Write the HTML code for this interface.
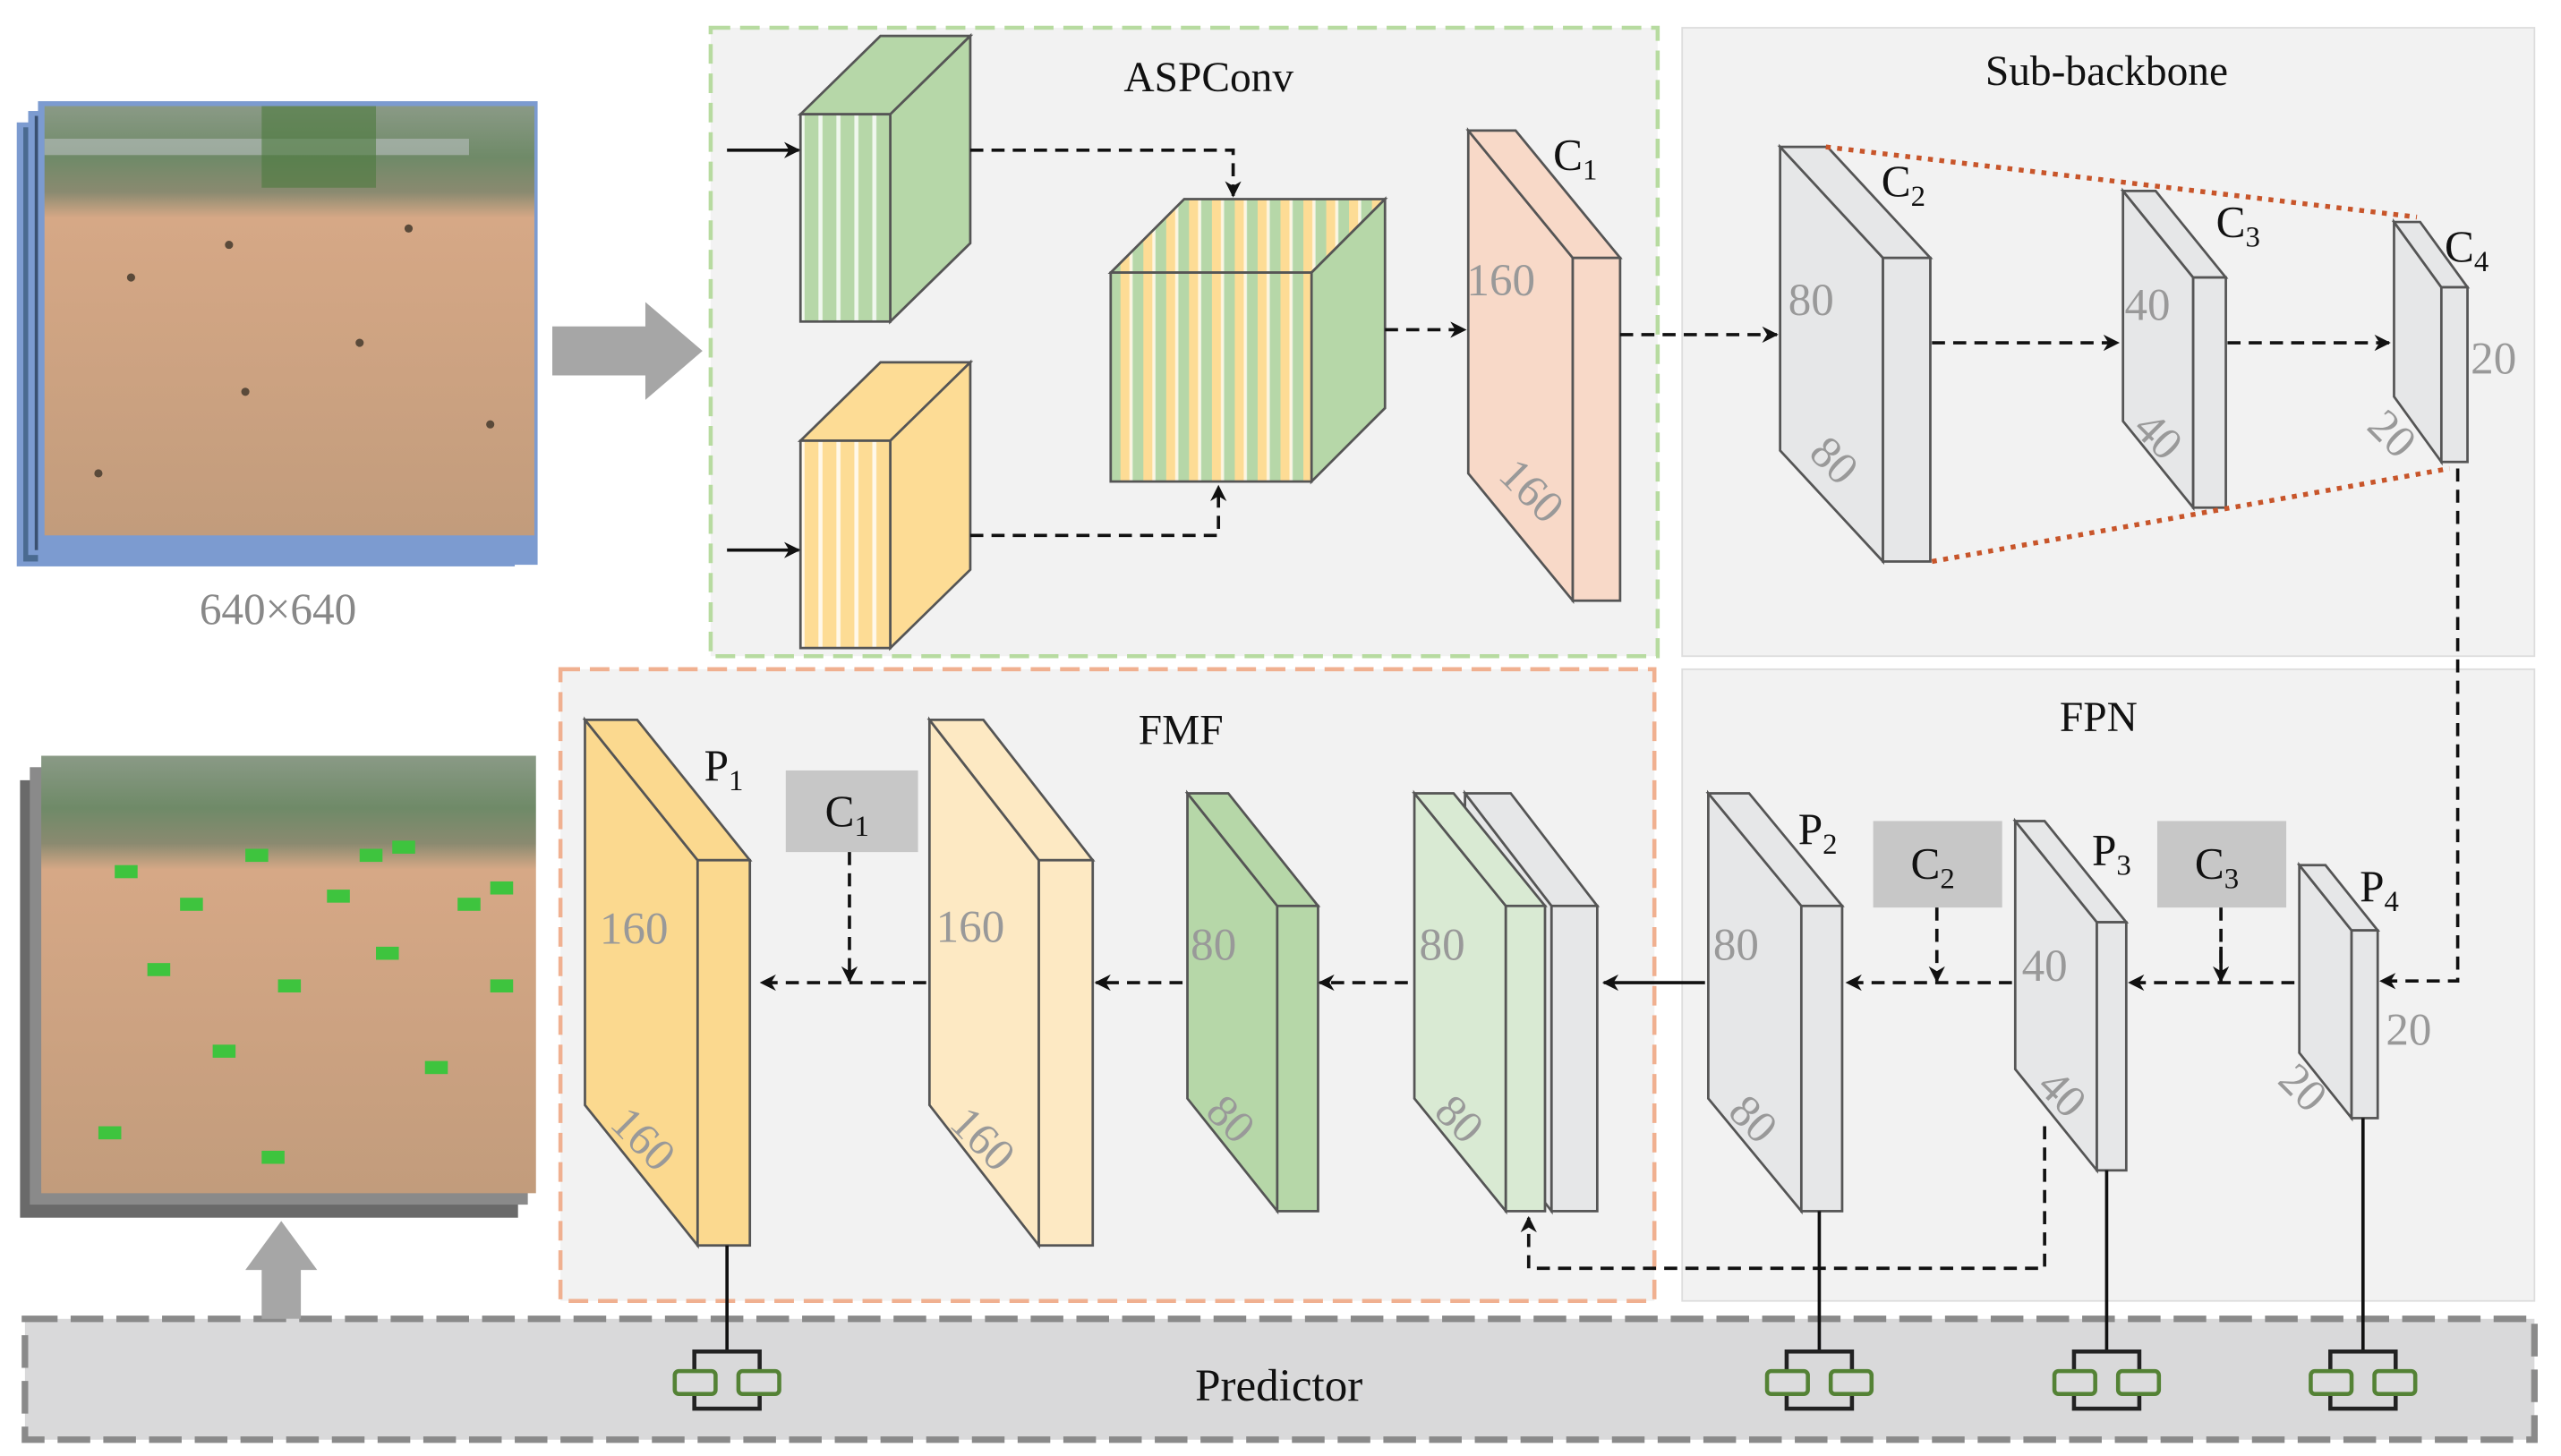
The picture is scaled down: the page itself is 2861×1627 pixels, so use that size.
<!DOCTYPE html>
<html><head><meta charset="utf-8">
<style>
html,body{margin:0;padding:0;background:#fff;}
svg{display:block;}
text{font-family:"Liberation Serif",serif;}
</style></head>
<body>
<svg width="2861" height="1627" viewBox="0 0 1568 892" xmlns="http://www.w3.org/2000/svg">
<defs>
<marker id="ah" markerWidth="10" markerHeight="10" refX="9" refY="5" orient="auto" markerUnits="userSpaceOnUse">
<path d="M0,0 L10,5 L0,10 L3,5 z" fill="#111"/></marker>
<linearGradient id="sand" x1="0" y1="0" x2="0" y2="1">
<stop offset="0" stop-color="#8a9a86"/><stop offset="0.12" stop-color="#6f8a68"/><stop offset="0.2" stop-color="#8a8a70"/><stop offset="0.26" stop-color="#d6a886"/><stop offset="1" stop-color="#c29c7c"/></linearGradient>
<pattern id="gs" width="11" height="10" patternUnits="userSpaceOnUse"><rect width="11" height="10" fill="#b6d7a8"/><rect x="6" width="2.5" height="10" fill="#fff" opacity="0.8"/></pattern>
<pattern id="ys" width="11" height="10" patternUnits="userSpaceOnUse"><rect width="11" height="10" fill="#fddc95"/><rect x="6" width="2.5" height="10" fill="#fff" opacity="0.8"/></pattern>
<pattern id="ms" width="14" height="10" patternUnits="userSpaceOnUse"><rect width="7" height="10" fill="#fddc95"/><rect x="7" width="7" height="10" fill="#b6d7a8"/><rect x="5.5" width="2" height="10" fill="#fff" opacity="0.7"/></pattern>
</defs>

<!-- panels -->
<rect x="435" y="17" width="580" height="385" fill="#f2f2f2" stroke="#b7dba0" stroke-width="2.5" stroke-dasharray="12,6"/>
<rect x="1030" y="17" width="522" height="385" fill="#f2f2f2" stroke="#ddd" stroke-width="1"/>
<rect x="343" y="410" width="670" height="387" fill="#f2f2f2" stroke="#f0b090" stroke-width="2.5" stroke-dasharray="12,6"/>
<rect x="1030" y="410" width="522" height="387" fill="#f2f2f2" stroke="#ddd" stroke-width="1"/>
<rect x="15" y="808" width="1537" height="74" fill="#d9d9da" stroke="#8a8a8a" stroke-width="4" stroke-dasharray="20,8"/>

<text x="740" y="56" font-size="26" text-anchor="middle" fill="#111">ASPConv</text>
<text x="1290" y="52" font-size="26" text-anchor="middle" fill="#111">Sub-backbone</text>
<text x="723" y="456" font-size="26" text-anchor="middle" fill="#111">FMF</text>
<text x="1285" y="448" font-size="26" text-anchor="middle" fill="#111">FPN</text>
<text x="783" y="858" font-size="28" text-anchor="middle" fill="#111">Predictor</text>

<!-- photos -->
<rect x="10" y="75" width="305" height="272" fill="#7c9bd0"/>
<rect x="14" y="78" width="300" height="266" fill="#4a6a90"/>
<rect x="17" y="68" width="305" height="272" fill="#7c9bd0"/>
<rect x="21" y="71" width="300" height="266" fill="#3a5070"/>
<rect x="23" y="62" width="306" height="284" fill="#7c9bd0"/>
<rect x="27" y="65" width="300" height="263" fill="url(#sand)"/>
<rect x="27" y="85" width="260" height="10" fill="#b9bfc0" opacity="0.6"/>
<rect x="160" y="65" width="70" height="50" fill="#4c7a3e" opacity="0.6"/>
<text x="170" y="382" font-size="27" text-anchor="middle" fill="#888">640×640</text>
<rect x="12" y="478" width="305" height="268" fill="#6a6a6a"/>
<rect x="18" y="470" width="305" height="268" fill="#8a8a8a"/>
<rect x="25" y="463" width="303" height="268" fill="url(#sand)"/>
<g fill="#5a4a3a">
<circle cx="80" cy="170" r="2.5"/><circle cx="140" cy="150" r="2.5"/><circle cx="220" cy="210" r="2.5"/><circle cx="60" cy="290" r="2.5"/><circle cx="300" cy="260" r="2.5"/><circle cx="250" cy="140" r="2.5"/><circle cx="150" cy="240" r="2.5"/>
</g>
<g fill="#3ec43e">
<rect x="70" y="530" width="14" height="8"/><rect x="110" y="550" width="14" height="8"/><rect x="150" y="520" width="14" height="8"/><rect x="200" y="545" width="14" height="8"/><rect x="240" y="515" width="14" height="8"/><rect x="280" y="550" width="14" height="8"/><rect x="90" y="590" width="14" height="8"/><rect x="170" y="600" width="14" height="8"/><rect x="230" y="580" width="14" height="8"/><rect x="300" y="600" width="14" height="8"/><rect x="130" y="640" width="14" height="8"/><rect x="260" y="650" width="14" height="8"/><rect x="60" y="690" width="14" height="8"/><rect x="160" y="705" width="14" height="8"/><rect x="220" y="520" width="14" height="8"/><rect x="300" y="540" width="14" height="8"/>
</g>

<!-- gray arrows -->
<polygon points="338,200 395,200 395,185 430,215 395,245 395,230 338,230" fill="#a6a6a6"/>
<polygon points="160,808 160,778 150,778 172,748 194,778 184,778 184,808" fill="#a6a6a6"/>

<!-- ASPConv cubes -->
<g stroke="#555" stroke-width="1.5">
<polygon points="490,70 539,22 594,22 545,70" fill="#b6d7a8"/>
<polygon points="545,70 594,22 594,149 545,197" fill="#b6d7a8"/>
<rect x="490" y="70" width="55" height="127" fill="url(#gs)"/>
<polygon points="490,270 539,222 594,222 545,270" fill="#fddc95"/>
<polygon points="545,270 594,222 594,349 545,397" fill="#fddc95"/>
<rect x="490" y="270" width="55" height="127" fill="url(#ys)"/>
<polygon points="680,167 725,122 848,122 803,167" fill="url(#ms)"/>
<polygon points="803,167 848,122 848,250 803,295" fill="#b6d7a8"/>
<rect x="680" y="167" width="123" height="128" fill="url(#ms)"/>
</g>

<!-- big cuboids -->
<g stroke="#555" stroke-width="1.5">
<polygon points="899,80 963,158 963,368 899,290" fill="#f8d9c8"/>
<polygon points="899,80 928,80 992,158 963,158" fill="#f8d9c8"/>
<rect x="963" y="158" width="29" height="210" fill="#f8d9c8"/>
<polygon points="1090,90 1153,158 1153,344 1090,276" fill="#e6e7e8"/>
<polygon points="1090,90 1119,90 1182,158 1153,158" fill="#e6e7e8"/>
<rect x="1153" y="158" width="29" height="186" fill="#e6e7e8"/>
<polygon points="1300,117 1343,170 1343,311 1300,258" fill="#e6e7e8"/>
<polygon points="1300,117 1320,117 1363,170 1343,170" fill="#e6e7e8"/>
<rect x="1343" y="170" width="20" height="141" fill="#e6e7e8"/>
<polygon points="1466,136 1495,176 1495,283 1466,243" fill="#e6e7e8"/>
<polygon points="1466,136 1482,136 1511,176 1495,176" fill="#e6e7e8"/>
<rect x="1495" y="176" width="16" height="107" fill="#e6e7e8"/>
<polygon points="1408,530 1440,570 1440,685 1408,645" fill="#e6e7e8"/>
<polygon points="1408,530 1424,530 1456,570 1440,570" fill="#e6e7e8"/>
<rect x="1440" y="570" width="16" height="115" fill="#e6e7e8"/>
<polygon points="1234,503 1284,565 1284,717 1234,655" fill="#e6e7e8"/>
<polygon points="1234,503 1252,503 1302,565 1284,565" fill="#e6e7e8"/>
<rect x="1284" y="565" width="18" height="152" fill="#e6e7e8"/>
<polygon points="1046,486 1103,555 1103,742 1046,673" fill="#e6e7e8"/>
<polygon points="1046,486 1071,486 1128,555 1103,555" fill="#e6e7e8"/>
<rect x="1103" y="555" width="25" height="187" fill="#e6e7e8"/>
<polygon points="897,486 950,555 950,742 897,673" fill="#e6e7e8"/>
<polygon points="897,486 925,486 978,555 950,555" fill="#e6e7e8"/>
<rect x="950" y="555" width="28" height="187" fill="#e6e7e8"/>
<polygon points="866,486 922,555 922,742 866,673" fill="#d9ead3"/>
<polygon points="866,486 890,486 946,555 922,555" fill="#d9ead3"/>
<rect x="922" y="555" width="24" height="187" fill="#d9ead3"/>
<polygon points="727,486 782,555 782,742 727,673" fill="#b6d7a8"/>
<polygon points="727,486 752,486 807,555 782,555" fill="#b6d7a8"/>
<rect x="782" y="555" width="25" height="187" fill="#b6d7a8"/>
<polygon points="569,441 636,527 636,763 569,677" fill="#fde9c3"/>
<polygon points="569,441 602,441 669,527 636,527" fill="#fde9c3"/>
<rect x="636" y="527" width="33" height="236" fill="#fde9c3"/>
<polygon points="358,441 427,527 427,763 358,677" fill="#fbd98f"/>
<polygon points="358,441 390,441 459,527 427,527" fill="#fbd98f"/>
<rect x="427" y="527" width="32" height="236" fill="#fbd98f"/>
</g>

<line x1="1118" y1="90" x2="1480" y2="133" stroke="#c8552a" stroke-width="3" stroke-dasharray="3,4"/>
<line x1="1183" y1="344" x2="1500" y2="287" stroke="#c8552a" stroke-width="3" stroke-dasharray="3,4"/>

<g fill="#999" font-size="28">
<text x="898" y="181">160</text>
<text x="905" y="300" transform="rotate(45 920 310)">160</text>
<text x="1095" y="193">80</text>
<text x="1102" y="290" transform="rotate(45 1118 290)">80</text>
<text x="1301" y="196">40</text>
<text x="1303" y="275" transform="rotate(45 1318 272)">40</text>
<text x="1513" y="229">20</text>
<text x="1449" y="275" transform="rotate(45 1464 268)">20</text>
<text x="1461" y="640">20</text>
<text x="1393" y="675" transform="rotate(45 1408 670)">20</text>
<text x="1238" y="601">40</text>
<text x="1245" y="680" transform="rotate(45 1262 675)">40</text>
<text x="1049" y="588">80</text>
<text x="1056" y="695" transform="rotate(45 1072 690)">80</text>
<text x="869" y="588">80</text>
<text x="876" y="695" transform="rotate(45 892 690)">80</text>
<text x="729" y="588">80</text>
<text x="736" y="695" transform="rotate(45 752 690)">80</text>
<text x="573" y="577">160</text>
<text x="578" y="705" transform="rotate(45 598 700)">160</text>
<text x="367" y="578">160</text>
<text x="370" y="705" transform="rotate(45 390 700)">160</text>
</g>

<g fill="#111" font-size="27">
<text x="951" y="104">C<tspan font-size="18" dy="6">1</tspan></text>
<text x="1152" y="120">C<tspan font-size="18" dy="6">2</tspan></text>
<text x="1357" y="145">C<tspan font-size="18" dy="6">3</tspan></text>
<text x="1497" y="160">C<tspan font-size="18" dy="6">4</tspan></text>
<text x="431" y="478">P<tspan font-size="18" dy="6">1</tspan></text>
<text x="1101" y="517">P<tspan font-size="18" dy="6">2</tspan></text>
<text x="1281" y="530">P<tspan font-size="18" dy="6">3</tspan></text>
<text x="1445" y="552">P<tspan font-size="18" dy="6">4</tspan></text>
</g>
<rect x="481" y="472" width="81" height="50" fill="#c7c7c7"/>
<rect x="1147" y="503" width="79" height="53" fill="#c7c7c7"/>
<rect x="1321" y="503" width="79" height="53" fill="#c7c7c7"/>
<g fill="#111" font-size="27">
<text x="505" y="506">C<tspan font-size="18" dy="6">1</tspan></text>
<text x="1170" y="538">C<tspan font-size="18" dy="6">2</tspan></text>
<text x="1344" y="538">C<tspan font-size="18" dy="6">3</tspan></text>
</g>

<g stroke="#111" stroke-width="2" fill="none">
<line x1="445" y1="92" x2="489" y2="92" marker-end="url(#ah)"/>
<line x1="445" y1="337" x2="489" y2="337" marker-end="url(#ah)"/>
<g stroke-dasharray="8,5">
<polyline points="594,92 755,92 755,120" marker-end="url(#ah)"/>
<polyline points="594,328 746,328 746,298" marker-end="url(#ah)"/>
<line x1="848" y1="202" x2="897" y2="202" marker-end="url(#ah)"/>
<line x1="992" y1="205" x2="1088" y2="205" marker-end="url(#ah)"/>
<line x1="1183" y1="210" x2="1297" y2="210" marker-end="url(#ah)"/>
<line x1="1364" y1="210" x2="1463" y2="210" marker-end="url(#ah)"/>
<polyline points="1505,287 1505,601 1458,601" marker-end="url(#ah)"/>
<line x1="1405" y1="602" x2="1304" y2="602" marker-end="url(#ah)"/>
<line x1="1360" y1="556" x2="1360" y2="601"/>
<line x1="1232" y1="602" x2="1131" y2="602" marker-end="url(#ah)"/>
<line x1="1186" y1="556" x2="1186" y2="601" marker-end="url(#ah)"/>
<line x1="862" y1="602" x2="808" y2="602" marker-end="url(#ah)"/>
<line x1="724" y1="602" x2="671" y2="602" marker-end="url(#ah)"/>
<line x1="567" y1="602" x2="466" y2="602" marker-end="url(#ah)"/>
<line x1="520" y1="522" x2="520" y2="601" marker-end="url(#ah)"/>
<polyline points="1252,690 1252,777 936,777 936,746" marker-end="url(#ah)"/>
</g>
<line x1="1044" y1="602" x2="982" y2="602" marker-end="url(#ah)"/>
<line x1="1360" y1="580" x2="1360" y2="601" marker-end="url(#ah)"/>
<line x1="445" y1="763" x2="445" y2="828"/>
<line x1="1114" y1="742" x2="1114" y2="828"/>
<line x1="1290" y1="717" x2="1290" y2="828"/>
<line x1="1447" y1="685" x2="1447" y2="828"/>
</g>

<!-- predictor heads -->
<g id="ph">
<rect x="425" y="828" width="40" height="35" fill="none" stroke="#222" stroke-width="2.5"/>
<rect x="413" y="840" width="25" height="14" rx="2.5" fill="#dcdcdd" stroke="#548235" stroke-width="2.5"/>
<rect x="452" y="840" width="25" height="14" rx="2.5" fill="#dcdcdd" stroke="#548235" stroke-width="2.5"/>
</g>
<use href="#ph" transform="translate(669,0)"/>
<use href="#ph" transform="translate(845,0)"/>
<use href="#ph" transform="translate(1002,0)"/>
</svg>
</body></html>
